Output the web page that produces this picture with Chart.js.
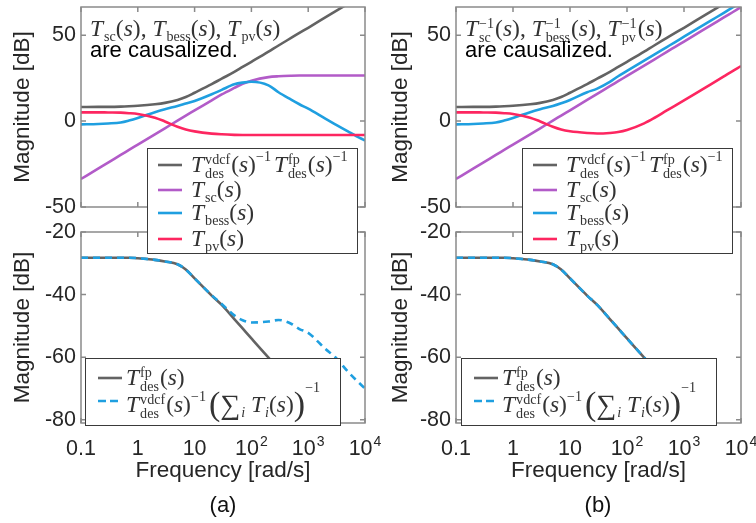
<!DOCTYPE html>
<html>
<head>
<meta charset="utf-8">
<script src="https://cdn.jsdelivr.net/npm/chart.js@4.4.1/dist/chart.umd.min.js"></script>
<style>
html,body{margin:0;padding:0;background:#fff;}
#wrap{position:relative;width:756px;height:523px;overflow:hidden;font-family:"Liberation Sans",Arial,sans-serif;}
canvas{position:absolute;}
.box{position:absolute;background:#fff;border:1.3px solid #3a3a3a;box-sizing:border-box;z-index:5;}
.row{position:absolute;left:0;right:0;height:0;}
.sw{position:absolute;top:-3px;}
.mt{position:absolute;font-family:"Liberation Serif","Times New Roman",serif;font-size:23.5px;line-height:40px;height:40px;white-space:nowrap;color:#333;}
.mt i{font-style:italic;}
.st{display:inline-block;font-size:0.6em;line-height:1;vertical-align:-0.4em;text-align:left;margin-left:1px;margin-right:1px;}
.st span{display:block;}
.sb{font-size:0.6em;line-height:1;vertical-align:-0.35em;margin-left:1px;}
.sp{font-size:0.6em;line-height:1;vertical-align:0.8em;margin-right:3px;}
.sp2{font-size:0.6em;line-height:1;vertical-align:1.45em;}
.big{font-size:34px;line-height:1;vertical-align:-3px;}
.sum{font-size:28px;line-height:1;vertical-align:-2px;}
.txt{position:absolute;font-size:22px;color:#000;white-space:nowrap;line-height:26px;}
.cap{position:absolute;font-size:22px;color:#111;line-height:26px;transform:translateX(-50%);}
</style>
</head>
<body>
<div id="wrap">
  <canvas id="cTL" width="378" height="225" style="left:0;top:0"></canvas>
  <canvas id="cTR" width="378" height="225" style="left:378px;top:0"></canvas>
  <canvas id="cBL" width="400" height="308" style="left:0;top:215px"></canvas>
  <canvas id="cBR" width="378" height="308" style="left:378px;top:215px"></canvas>

  <!-- annotations -->
  <div class="mt" style="left:90px;top:8px;z-index:5"><i>T</i><span class="sb">sc</span>(<i>s</i>), <i>T</i><span class="sb">bess</span>(<i>s</i>), <i>T</i><span class="sb">pv</span>(<i>s</i>)</div>
  <div class="txt" style="left:90px;top:37px;z-index:5">are causalized.</div>
  <div class="mt" style="left:465px;top:8px;z-index:5"><i>T</i><span class="st"><span>−1</span><span>sc</span></span>(<i>s</i>), <i>T</i><span class="st"><span>−1</span><span>bess</span></span>(<i>s</i>), <i>T</i><span class="st"><span>−1</span><span>pv</span></span>(<i>s</i>)</div>
  <div class="txt" style="left:465px;top:37px;z-index:5">are causalized.</div>

  <!-- top legends -->
  <div class="box" style="left:147px;top:148px;width:211px;height:106px">
    <div class="row" style="top:16px"><svg class="sw" style="left:10px" width="24" height="6"><line x1="0" y1="3" x2="24" y2="3" stroke="#636363" stroke-width="2.6"/></svg>
      <div class="mt" style="left:43px;top:-21px"><i>T</i><span class="st"><span>vdcf</span><span>des</span></span>(<i>s</i>)<span class="sp">−1</span><i>T</i><span class="st"><span>fp</span><span>des</span></span>(<i>s</i>)<span class="sp">−1</span></div></div>
    <div class="row" style="top:41px"><svg class="sw" style="left:10px" width="24" height="6"><line x1="0" y1="3" x2="24" y2="3" stroke="#b25bc8" stroke-width="2.6"/></svg>
      <div class="mt" style="left:43px;top:-21px"><i>T</i><span class="sb">sc</span>(<i>s</i>)</div></div>
    <div class="row" style="top:64px"><svg class="sw" style="left:10px" width="24" height="6"><line x1="0" y1="3" x2="24" y2="3" stroke="#1f9fe0" stroke-width="2.6"/></svg>
      <div class="mt" style="left:43px;top:-21px"><i>T</i><span class="sb">bess</span>(<i>s</i>)</div></div>
    <div class="row" style="top:90px"><svg class="sw" style="left:10px" width="24" height="6"><line x1="0" y1="3" x2="24" y2="3" stroke="#fd2660" stroke-width="2.6"/></svg>
      <div class="mt" style="left:43px;top:-21px"><i>T</i><span class="sb">pv</span>(<i>s</i>)</div></div>
  </div>
  <div class="box" style="left:522px;top:148px;width:211px;height:106px">
    <div class="row" style="top:16px"><svg class="sw" style="left:10px" width="24" height="6"><line x1="0" y1="3" x2="24" y2="3" stroke="#636363" stroke-width="2.6"/></svg>
      <div class="mt" style="left:43px;top:-21px"><i>T</i><span class="st"><span>vdcf</span><span>des</span></span>(<i>s</i>)<span class="sp">−1</span><i>T</i><span class="st"><span>fp</span><span>des</span></span>(<i>s</i>)<span class="sp">−1</span></div></div>
    <div class="row" style="top:41px"><svg class="sw" style="left:10px" width="24" height="6"><line x1="0" y1="3" x2="24" y2="3" stroke="#b25bc8" stroke-width="2.6"/></svg>
      <div class="mt" style="left:43px;top:-21px"><i>T</i><span class="sb">sc</span>(<i>s</i>)</div></div>
    <div class="row" style="top:64px"><svg class="sw" style="left:10px" width="24" height="6"><line x1="0" y1="3" x2="24" y2="3" stroke="#1f9fe0" stroke-width="2.6"/></svg>
      <div class="mt" style="left:43px;top:-21px"><i>T</i><span class="sb">bess</span>(<i>s</i>)</div></div>
    <div class="row" style="top:90px"><svg class="sw" style="left:10px" width="24" height="6"><line x1="0" y1="3" x2="24" y2="3" stroke="#fd2660" stroke-width="2.6"/></svg>
      <div class="mt" style="left:43px;top:-21px"><i>T</i><span class="sb">pv</span>(<i>s</i>)</div></div>
  </div>

  <!-- bottom legends -->
  <div class="box" style="left:85px;top:358px;width:256px;height:68px">
    <div class="row" style="top:19px"><svg class="sw" style="left:12px" width="24" height="6"><line x1="0" y1="3" x2="24" y2="3" stroke="#636363" stroke-width="2.6"/></svg>
      <div class="mt" style="left:40px;top:-21px"><i>T</i><span class="st"><span>fp</span><span>des</span></span>(<i>s</i>)</div></div>
    <div class="row" style="top:42px"><svg class="sw" style="left:12px" width="24" height="6"><line x1="0" y1="3" x2="24" y2="3" stroke="#1f9fe0" stroke-width="2.6" stroke-dasharray="8,4"/></svg>
      <div class="mt" style="left:40px;top:-21px"><i>T</i><span class="st"><span>vdcf</span><span>des</span></span>(<i>s</i>)<span class="sp">−1</span><span class="big">(</span><span class="sum">∑</span><span class="sb"><i>i</i></span> <i>T</i><span class="sb"><i>i</i></span>(<i>s</i>)<span class="big">)</span><span class="sp2">−1</span></div></div>
  </div>
  <div class="box" style="left:461px;top:358px;width:256px;height:68px">
    <div class="row" style="top:19px"><svg class="sw" style="left:12px" width="24" height="6"><line x1="0" y1="3" x2="24" y2="3" stroke="#636363" stroke-width="2.6"/></svg>
      <div class="mt" style="left:40px;top:-21px"><i>T</i><span class="st"><span>fp</span><span>des</span></span>(<i>s</i>)</div></div>
    <div class="row" style="top:42px"><svg class="sw" style="left:12px" width="24" height="6"><line x1="0" y1="3" x2="24" y2="3" stroke="#1f9fe0" stroke-width="2.6" stroke-dasharray="8,4"/></svg>
      <div class="mt" style="left:40px;top:-21px"><i>T</i><span class="st"><span>vdcf</span><span>des</span></span>(<i>s</i>)<span class="sp">−1</span><span class="big">(</span><span class="sum">∑</span><span class="sb"><i>i</i></span> <i>T</i><span class="sb"><i>i</i></span>(<i>s</i>)<span class="big">)</span><span class="sp2">−1</span></div></div>
  </div>

  <div class="cap" style="left:223px;top:492px">(a)</div>
  <div class="cap" style="left:598px;top:492px">(b)</div>
</div>

<script>
// ---------------- data ----------------
const freq = [0.1,0.2,0.3,0.5,0.7,1,2,3,5,7,10,20,30,50,70,100,200,300,500,700,1000,2000,3000,5000,7000,10000];

// top panels: T_des^vdcf(s)^-1 T_des^fp(s)^-1 (same in (a) and (b))
const grayTop = [8.2,8.3,8.3,8.4,8.6,8.9,9.8,10.6,12.3,14,16.5,21.5,24.7,28.6,31.5,34.5,40.4,44,48.4,51.3,54.3,60.3,63.8,68.3,71.2,74.3];
// (a) T_sc, T_bess, T_pv
const purpleA = [-33.7,-27.7,-24.2,-19.7,-16.8,-13.7,-7.7,-4.2,0.3,3.2,6.2,12.1,15.5,19.3,21.7,23.5,25.6,26.1,26.4,26.5,26.5,26.5,26.5,26.5,26.5,26.5];
const blueA   = [-1.9,-1.7,-1.4,-0.8,0.3,1.8,5.2,6.9,8.8,10.2,11.7,15.6,18.2,21.4,22.4,22.9,20.8,16.8,12.5,9.8,7.2,1.4,-1.9,-6,-8.7,-11.3];
const redA    = [5.1,5.1,5.0,4.9,4.6,4.1,2.0,-0.2,-3.3,-4.9,-6.0,-7.3,-7.7,-8,-8.1,-8.1,-8.1,-8.1,-8.1,-8.1,-8.1,-8.1,-8.1,-8.1,-8.1,-8.1];
// (b) T_sc^-1, T_bess^-1, T_pv^-1
const purpleB = [-33.7,-27.7,-24.2,-19.7,-16.8,-13.7,-7.7,-4.2,0.3,3.2,6.3,12.3,15.8,20.3,23.2,26.3,32.3,35.8,40.3,43.2,46.3,52.3,55.8,60.3,63.2,66.3];
const blueB   = [-1.9,-1.7,-1.4,-0.8,0.3,1.8,5.2,6.9,8.8,10.4,12.3,16.8,18.9,22.8,26.1,29.2,35.2,38.7,43.1,46,49.1,55.1,58.6,63,66,69.1];
const redB    = [5.1,5.1,5.0,4.9,4.6,4.1,2.0,-0.2,-3.3,-4.9,-5.9,-6.9,-7.2,-6.9,-6.4,-5.2,-1.3,1.8,6.2,9,12,18,21.5,26,29,32];

// bottom panels
const grayBottom = [-28.2,-28.2,-28.2,-28.2,-28.2,-28.4,-28.9,-29.4,-30.3,-32,-34.8,-40.3,-43.3,-47.8,-50.8,-54,-60.1,-63.5,-67.7,-70.5,-73.5,-79.3,-82.6,-86.8,-89.6,-92.6];
const dashedA    = [-28.2,-28.2,-28.2,-28.2,-28.2,-28.4,-28.9,-29.4,-30.3,-32,-34.8,-40.2,-43,-46.6,-48.2,-48.9,-48.6,-48.1,-49.3,-51,-52.2,-57.3,-60,-64.6,-67.3,-70];
const dashedB    = [-28.2,-28.2,-28.2,-28.2,-28.2,-28.4,-28.9,-29.4,-30.3,-32,-34.8,-40.3,-43.3,-47.8,-50.8,-54,-60.1,-63.5,-67.7,-70.5,-73.5,-79.3,-82.6,-86.8,-89.6,-92.6];

const xTicks = [0.1,1,10,100,1000,10000];
const xTickLabels = ['0.1','1','10','10^2','10^3','10^4'];
const yTicksTop = [-50,0,50];
const yTicksBottom = [-80,-60,-40,-20];

// ---------------- styling ----------------
const FONT = '"Liberation Sans", Arial, sans-serif';
const COL = {gray:'#636363', purple:'#b25bc8', blue:'#1f9fe0', red:'#fd2660'};

function pts(ys){ return freq.map((f,i)=>({x:f, y:ys[i]})); }
function ds(ys, color, order, dash){
  return {data:pts(ys), borderColor:color, borderWidth:2.6, pointRadius:0, fill:false,
          cubicInterpolationMode:'monotone', borderDash:dash||[], order:order};
}

const frame = {
  id:'frame',
  afterDraw(chart, args, o){
    const {ctx, chartArea:a, scales:{x, y}} = chart;
    ctx.save();
    ctx.strokeStyle = '#8a8a8a'; ctx.lineWidth = 1.5;
    ctx.strokeRect(a.left, a.top, a.right - a.left, a.bottom - a.top);
    const L = 5;
    ctx.beginPath();
    o.xt.forEach(v => { const px = x.getPixelForValue(v);
      ctx.moveTo(px, a.bottom); ctx.lineTo(px, a.bottom - L);
      ctx.moveTo(px, a.top); ctx.lineTo(px, a.top + L); });
    o.yt.forEach(v => { const py = y.getPixelForValue(v);
      ctx.moveTo(a.left, py); ctx.lineTo(a.left + L, py);
      ctx.moveTo(a.right, py); ctx.lineTo(a.right - L, py); });
    ctx.stroke();
    if (o.labels) {
      ctx.fillStyle = '#262626'; ctx.textBaseline = 'alphabetic'; ctx.textAlign = 'left';
      const by = a.bottom + 31.5;
      o.xt.forEach((v, i) => {
        const parts = o.labels[i].split('^');
        ctx.font = '21.5px ' + FONT; const wb = ctx.measureText(parts[0]).width;
        let we = 0;
        if (parts[1]) { ctx.font = '14px ' + FONT; we = ctx.measureText(parts[1]).width + 1; }
        const px = x.getPixelForValue(v); const sx = px - (wb + we) / 2;
        ctx.font = '21.5px ' + FONT; ctx.fillText(parts[0], sx, by);
        if (parts[1]) { ctx.font = '14px ' + FONT; ctx.fillText(parts[1], sx + wb + 1, by - 9); }
      });
    }
    ctx.restore();
  }
};

function panel(id, o){
  return new Chart(document.getElementById(id), {
    type:'line',
    data:{datasets:o.datasets},
    options:{
      responsive:false, animation:false, devicePixelRatio:1,
      layout:{padding:{left:0, right:o.padR, top:o.padT, bottom:0}},
      plugins:{legend:{display:false}, tooltip:{enabled:false},
               frame:{xt:xTicks, yt:o.yt, labels:o.showX ? xTickLabels : null}},
      scales:{
        x:{type:'logarithmic', min:0.1, max:10000,
           grid:{display:false, drawTicks:false}, border:{display:false}, ticks:{display:false},
           afterBuildTicks:s=>{ s.ticks = xTicks.map(v=>({value:v})); },
           afterFit:s=>{ s.height = o.xH; s.paddingLeft = 0; s.paddingRight = 0; },
           title:{display:o.showX, text:'Frequency [rad/s]', color:'#262626',
                  font:{family:FONT, size:22.5}, padding:{top:0, bottom:38.5}}},
        y:{type:'linear', min:o.ymin, max:o.ymax,
           grid:{display:false, drawTicks:false}, border:{display:false},
           ticks:{color:'#262626', font:{family:FONT, size:21.5}, padding:5},
           afterBuildTicks:s=>{ s.ticks = o.yt.map(v=>({value:v})); },
           afterFit:s=>{ s.width = o.yW; s.paddingTop = 0; s.paddingBottom = 0; },
           title:{display:true, text:'Magnitude [dB]', color:'#262626',
                  font:{family:FONT, size:22.5}, padding:{top:9, bottom:0}}}
      }
    },
    plugins:[frame]
  });
}

panel('cTL', {yW:81, padR:13, padT:7, xH:18, ymin:-50, ymax:66.4, yt:yTicksTop, showX:false,
  datasets:[ds(grayTop,COL.gray,4), ds(purpleA,COL.purple,3), ds(blueA,COL.blue,2), ds(redA,COL.red,1)]});
panel('cTR', {yW:78, padR:15, padT:7, xH:18, ymin:-50, ymax:66.4, yt:yTicksTop, showX:false,
  datasets:[ds(grayTop,COL.gray,4), ds(purpleB,COL.purple,3), ds(blueB,COL.blue,2), ds(redB,COL.red,1)]});
panel('cBL', {yW:81, padR:35, padT:17, xH:100, ymin:-81, ymax:-20, yt:yTicksBottom, showX:true,
  datasets:[ds(grayBottom,COL.gray,2), ds(dashedA,COL.blue,1,[7,5])]});
panel('cBR', {yW:78, padR:15, padT:17, xH:100, ymin:-81, ymax:-20, yt:yTicksBottom, showX:true,
  datasets:[ds(grayBottom,COL.gray,2), ds(dashedB,COL.blue,1,[7,5])]});
</script>
</body>
</html>
